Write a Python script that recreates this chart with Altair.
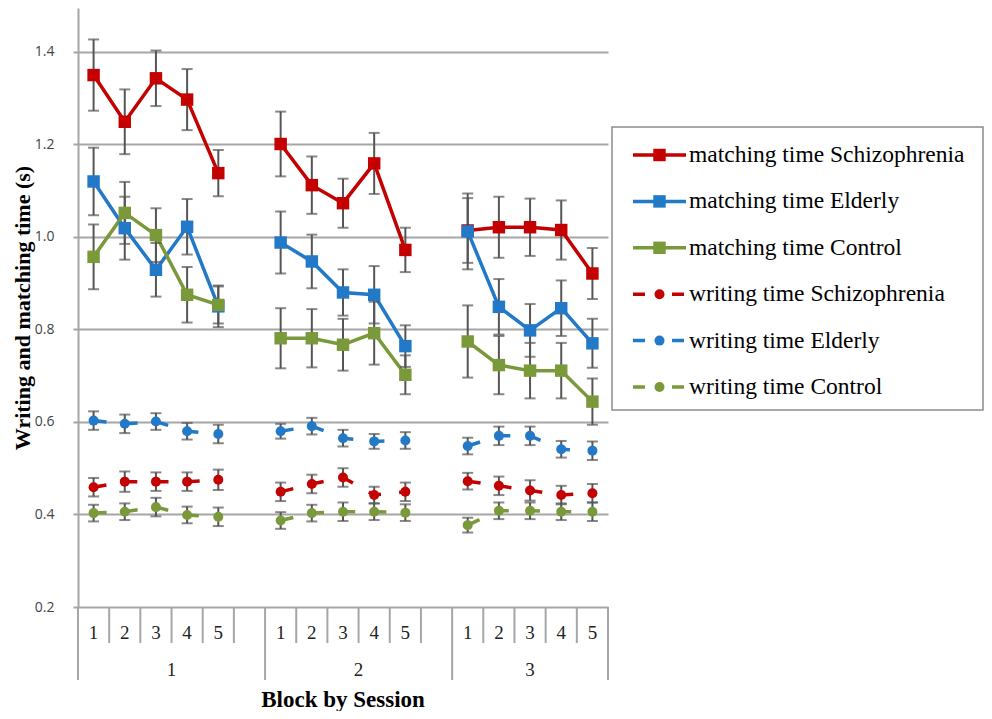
import altair as alt
import pandas as pd

# ---------------- data ----------------
sessions = [1, 2, 3]
blocks = [1, 2, 3, 4, 5]

series_names = [
    "matching time Schizophrenia",
    "matching time Elderly",
    "matching time Control",
    "writing time Schizophrenia",
    "writing time Elderly",
    "writing time Control",
]
series_kind = ["matching", "matching", "matching", "writing", "writing", "writing"]
series_colors = ["#C40000", "#2179C8", "#7A993A", "#C40000", "#2179C8", "#7A993A"]

# values per series: session 1 blocks 1-5, session 2 blocks 1-5, session 3 blocks 1-5
matching_schizophrenia = [1.350, 1.249, 1.343, 1.297, 1.138,
                          1.201, 1.112, 1.073, 1.159, 0.972,
                          1.014, 1.021, 1.021, 1.015, 0.921]
matching_schizophrenia_err = [0.077, 0.070, 0.060, 0.066, 0.050,
                              0.070, 0.062, 0.053, 0.066, 0.048,
                              0.070, 0.066, 0.062, 0.064, 0.055]
matching_elderly = [1.120, 1.019, 0.929, 1.022, 0.850,
                    0.988, 0.947, 0.880, 0.875, 0.764,
                    1.012, 0.849, 0.798, 0.846, 0.770]
matching_elderly_err = [0.073, 0.068, 0.058, 0.060, 0.045,
                        0.067, 0.058, 0.050, 0.062, 0.045,
                        0.082, 0.060, 0.057, 0.060, 0.053]
matching_control = [0.957, 1.052, 1.004, 0.875, 0.853,
                    0.781, 0.781, 0.767, 0.792, 0.702,
                    0.774, 0.723, 0.711, 0.711, 0.644]
matching_control_err = [0.070, 0.067, 0.058, 0.060, 0.040,
                        0.065, 0.063, 0.056, 0.068, 0.042,
                        0.078, 0.063, 0.060, 0.060, 0.050]
writing_schizophrenia = [0.459, 0.471, 0.471, 0.471, 0.475,
                         0.449, 0.466, 0.480, 0.442, 0.449,
                         0.472, 0.462, 0.452, 0.442, 0.446]
writing_schizophrenia_err = [0.020, 0.022, 0.020, 0.020, 0.022,
                             0.020, 0.020, 0.020, 0.018, 0.020,
                             0.018, 0.020, 0.022, 0.020, 0.020]
writing_elderly = [0.603, 0.596, 0.601, 0.580, 0.574,
                   0.580, 0.591, 0.565, 0.558, 0.560,
                   0.548, 0.570, 0.570, 0.541, 0.538]
writing_elderly_err = [0.020, 0.020, 0.018, 0.018, 0.020,
                       0.016, 0.018, 0.018, 0.016, 0.018,
                       0.018, 0.020, 0.020, 0.018, 0.020]
writing_control = [0.403, 0.406, 0.416, 0.399, 0.395,
                   0.387, 0.403, 0.406, 0.406, 0.404,
                   0.377, 0.408, 0.408, 0.406, 0.406]
writing_control_err = [0.018, 0.018, 0.020, 0.018, 0.020,
                       0.018, 0.018, 0.020, 0.018, 0.018,
                       0.016, 0.018, 0.018, 0.018, 0.020]

y_tick_values = [0.2, 0.4, 0.6, 0.8, 1.0, 1.2, 1.4]

series_values = [matching_schizophrenia, matching_elderly, matching_control,
                 writing_schizophrenia, writing_elderly, writing_control]
series_errors = [matching_schizophrenia_err, matching_elderly_err, matching_control_err,
                 writing_schizophrenia_err, writing_elderly_err, writing_control_err]

# ---------------- build tables ----------------
SLOTS_PER_SESSION = len(blocks) + 1          # one empty category between sessions
N_SLOTS = SLOTS_PER_SESSION * len(sessions) - 1

rows = []
for name, kind, vals, errs in zip(series_names, series_kind, series_values, series_errors):
    for si, s in enumerate(sessions):
        for bi, b in enumerate(blocks):
            k = si * len(blocks) + bi
            rows.append(dict(series=name, kind=kind, session=s, block=b,
                             x=si * SLOTS_PER_SESSION + bi + 0.5,
                             value=vals[k], err=errs[k]))
df = pd.DataFrame(rows)

session_starts = [si * SLOTS_PER_SESSION for si in range(len(sessions))]
tick_df = pd.DataFrame({"bx": list(range(N_SLOTS + 1))})
tick_df["long"] = tick_df["bx"].isin(session_starts + [N_SLOTS])

block_df = df[["session", "block", "x"]].drop_duplicates()
session_df = pd.DataFrame({
    "session": sessions,
    "cx": [(st + min(st + SLOTS_PER_SESSION, N_SLOTS)) / 2 for st in session_starts],
})

legend_df = pd.DataFrame({"row": list(range(len(series_names))),
                          "series": series_names, "kind": series_kind})

# ---------------- scales / encodings ----------------
GRID = "#A6A6A6"
ERR = "#555555"
SERIF = "Liberation Serif"

xscale = alt.Scale(domain=[0, N_SLOTS])
yscale = alt.Scale(domain=[0.2, 1.495])
yaxis = alt.Axis(values=y_tick_values, format=".1f", grid=True, gridColor=GRID, gridWidth=2,
                 domainColor=GRID, domainWidth=2, tickColor=GRID, tickWidth=2, tickSize=5,
                 labelFont="Open Sans", labelFontSize=14, labelColor="#444444", labelPadding=19,
                 title="Writing and matching time (s)", titleFont=SERIF, titleFontSize=22,
                 titleFontWeight="bold", titleColor="black", titleAngle=-90,
                 titleX=-56, titleY=299.5, titleAlign="center", titleBaseline="middle")
X = alt.X("x:Q", scale=xscale, axis=None)
color = alt.Color("series:N", scale=alt.Scale(domain=series_names, range=series_colors), legend=None)


def Yv(field):
    return alt.Y(field, scale=yscale, axis=yaxis)


base = alt.Chart(df)
matching = base.transform_filter("datum.kind == 'matching'")
writing = base.transform_filter("datum.kind == 'writing'")

lines_m = matching.mark_line(strokeWidth=3.5).encode(x=X, y=Yv("value:Q"), color=color, detail="session:N")
lines_w = writing.mark_line(strokeWidth=3.5, strokeDash=[13, 18.2]).encode(
    x=X, y=Yv("value:Q"), color=color, detail="session:N")

err_base = base.transform_calculate(lo="datum.value - datum.err", hi="datum.value + datum.err")
err_rules = err_base.mark_rule(color=ERR, strokeWidth=2).encode(x=X, y=Yv("lo:Q"), y2="hi:Q")
err_caps = err_base.transform_fold(["lo", "hi"], as_=["end", "yv"]).mark_tick(
    orient="horizontal", size=11, thickness=2, color=ERR).encode(x=X, y=Yv("yv:Q"))

pts_m = matching.mark_point(filled=True, shape="square", size=155, opacity=1).encode(
    x=X, y=Yv("value:Q"), color=color)
pts_w = writing.mark_point(filled=True, shape="circle", size=100, opacity=1).encode(
    x=X, y=Yv("value:Q"), color=color)

tx = alt.X("bx:Q", scale=xscale, axis=None)
ticks_short = alt.Chart(tick_df).transform_filter("!datum.long").mark_rule(
    color=GRID, strokeWidth=2).encode(x=tx, y=alt.value(599), y2=alt.value(635))
ticks_long = alt.Chart(tick_df).transform_filter("datum.long").mark_rule(
    color=GRID, strokeWidth=2).encode(x=tx, y=alt.value(599), y2=alt.value(672))

block_labels = alt.Chart(block_df).mark_text(font=SERIF, fontSize=19, color="#222222",
                                             baseline="middle").encode(
    x=X, y=alt.value(625), text="block:N")
session_labels = alt.Chart(session_df).mark_text(font=SERIF, fontSize=19, color="#222222",
                                                 baseline="middle").encode(
    x=alt.X("cx:Q", scale=xscale, axis=None), y=alt.value(662), text="session:N")
x_title = alt.Chart(pd.DataFrame({"t": ["Block by Session"]})).mark_text(
    font=SERIF, fontSize=23, fontWeight="bold", color="black", baseline="alphabetic").encode(
    x=alt.value(265), y=alt.value(699), text="t:N")

main = alt.layer(lines_m, lines_w, err_rules, err_caps, pts_m, pts_w,
                 ticks_short, ticks_long, block_labels, session_labels, x_title)

# ---------------- legend ----------------
LY = alt.Y("row:Q", scale=alt.Scale(domain=[0, len(series_names) - 1], range=[147, 379]), axis=None)
leg = alt.Chart(legend_df)
leg_box = alt.Chart(pd.DataFrame({"k": [0]})).mark_rect(
    fill="white", stroke="#8C8C8C", strokeWidth=1.5).encode(
    x=alt.value(534), x2=alt.value(905), y=alt.value(119), y2=alt.value(402))
leg_line_m = leg.transform_filter("datum.kind == 'matching'").mark_rule(strokeWidth=3.5).encode(
    x=alt.value(555), x2=alt.value(608), y=LY, color=color)
leg_line_w = leg.transform_filter("datum.kind == 'writing'").mark_rule(
    strokeWidth=3.5, strokeDash=[12, 27]).encode(
    x=alt.value(555), x2=alt.value(608), y=LY, color=color)
leg_pt_m = leg.transform_filter("datum.kind == 'matching'").mark_point(
    filled=True, shape="square", size=155, opacity=1).encode(x=alt.value(581.5), y=LY, color=color)
leg_pt_w = leg.transform_filter("datum.kind == 'writing'").mark_point(
    filled=True, shape="circle", size=100, opacity=1).encode(x=alt.value(581.5), y=LY, color=color)
leg_text = leg.mark_text(font=SERIF, fontSize=23.5, color="black", align="left",
                         baseline="middle").encode(x=alt.value(611), y=LY, text="series:N")

legend = alt.layer(leg_box, leg_line_m, leg_line_w, leg_pt_m, leg_pt_w, leg_text)

chart = alt.layer(main, legend).resolve_scale(y="independent").properties(
    width=530, height=599, autosize="none",
    padding={"left": 70, "top": 0, "right": 376, "bottom": 104},
).configure_view(stroke=None)

chart.save("out.html", embed_options={"renderer": "svg", "actions": False})
